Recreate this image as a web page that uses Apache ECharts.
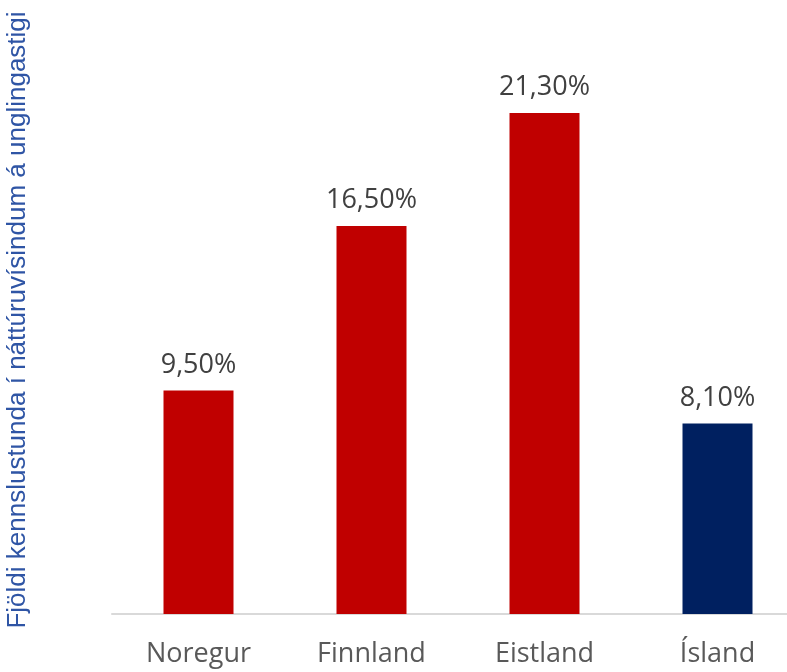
<!DOCTYPE html>
<html><head><meta charset="utf-8">
<script src="https://cdn.jsdelivr.net/npm/echarts@6/dist/echarts.min.js"></script>
<style>html,body{margin:0;padding:0;background:#fff}#c{width:787px;height:672px}</style>
</head><body><div id="c"></div>
<script>
const categories = ['Noregur', 'Finnland', 'Eistland', 'Ísland'];
const values = [9.5, 16.5, 21.3, 8.1];
const barColors = ['#C00000', '#C00000', '#C00000', '#002060'];
const yTitle = 'Fjöldi kennslustunda í náttúruvísindum á unglingastigi';

const chart = echarts.init(document.getElementById('c'), null, {renderer: 'canvas'});
chart.setOption({
  animation: false,
  grid: {left: 112, width: 692, top: 26, bottom: 58, outerBoundsMode: 'none', containLabel: false},
  xAxis: {
    type: 'category', data: categories,
    axisLine: {lineStyle: {color: '#D9D9D9', width: 2}},
    axisTick: {show: false},
    axisLabel: {color: '#595959', fontSize: 27, fontFamily: 'Open Sans', margin: 27}
  },
  yAxis: {
    type: 'value', min: 0, max: 25,
    axisLine: {show: false}, axisTick: {show: false}, axisLabel: {show: false}, splitLine: {show: false},
    name: yTitle, nameLocation: 'middle', nameRotate: 90, nameGap: 81,
    nameTextStyle: {color: '#2F55A5', fontSize: 26, fontFamily: 'Liberation Sans'}
  },
  series: [{
    type: 'bar', barWidth: 70,
    data: values.map((v, i) => ({value: v, itemStyle: {color: barColors[i]}})),
    label: {
      show: true, position: 'top', distance: 12,
      color: '#404040', fontSize: 27, fontFamily: 'Open Sans',
      formatter: p => p.value.toFixed(2).replace('.', ',') + '%'
    }
  }]
});
</script></body></html>
